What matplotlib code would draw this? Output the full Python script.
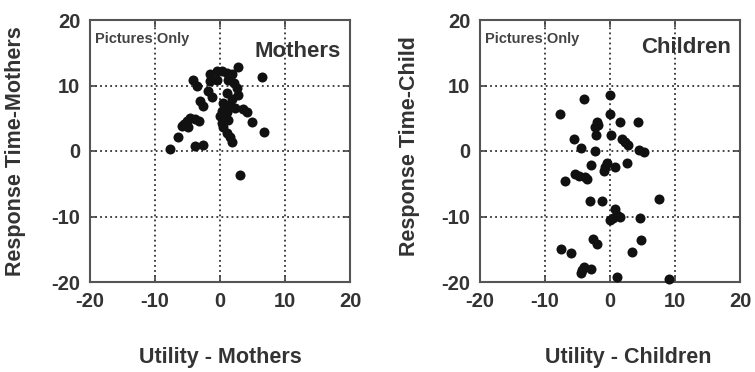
import matplotlib
matplotlib.use("Agg")
import matplotlib.pyplot as plt

plt.rcParams["font.family"] = ["Liberation Sans", "DejaVu Sans"]
plt.rcParams["axes.unicode_minus"] = False

# Mothers panel: utility vs response time
mothers_x = [2.8, 6.4, -4.1, -3.6, -1.5, -0.5, 0.3, 1.0, 1.8, -1.5, -0.5, 1.3, 2.1,
             2.6, -1.3, 1.0, 2.8, -3.1, -2.6, 0.5, 1.5, 2.3, 3.6, 4.1, 0.3, 1.0,
             4.9, 6.7, -4.6, -3.8, -5.1, -5.9, -3.3, -5.6, -4.9, -6.4, -7.7, -3.8,
             -2.6, 0.3, 0.5, 1.0, 1.5, 1.8, 3.1, 0.0, 1.3, -1.8, 1.8]
mothers_y = [12.8, 11.3, 10.8, 9.9, 11.7, 12.2, 12.2, 11.9, 11.7, 10.7, 10.9, 10.9, 10.4,
             9.6, 8.3, 8.9, 8.6, 7.6, 6.9, 7.4, 7.0, 6.6, 6.4, 6.0, 6.1, 5.9,
             4.4, 2.9, 5.1, 4.9, 4.6, 3.8, 4.6, 4.1, 3.6, 2.2, 0.3, 0.7,
             0.9, 4.3, 3.6, 2.8, 2.1, 1.3, -3.7, 5.4, 4.8, 9.1, 7.9]

# Children panel
children_x = [0.0, -4.0, -7.7, 0.0, 1.5, 4.3, -2.0, -1.8, -2.3, -2.2, 0.1, 1.9, 2.3,
              2.7, -5.6, -4.4, -2.3, 4.5, 5.3, -3.0, -0.5, -0.7, -1.0, 0.8, 2.6,
              -5.4, -4.7, -3.8, -3.5, -6.9, -3.1, -1.2, 7.6, 0.8, 1.1, 1.5, 0.0,
              0.5, 4.6, -2.6, -2.0, 4.8, -7.6, -6.0, 3.4, -4.0, -4.5, -3.0, -4.3,
              1.0, 9.1]
children_y = [8.6, 8.0, 5.7, 5.6, 4.4, 4.4, 4.4, 3.9, 3.7, 2.4, 2.4, 1.9, 1.4,
              0.9, 1.8, 0.5, 0.0, 0.2, -0.2, -2.1, -1.8, -2.4, -3.1, -2.4, -1.9,
              -3.5, -3.8, -3.9, -4.3, -4.6, -7.7, -7.7, -7.4, -8.9, -9.7, -10.0, -10.6,
              -10.3, -10.3, -13.5, -14.2, -13.6, -14.9, -15.5, -15.4, -17.7, -18.6, -18.0, -18.2,
              -19.2, -19.6]

ticks = [-20, -10, 0, 10, 20]
text_color = "#333333"

# data, title, x label, y label, axes pixel span, x label centre, y label centre
panels = [
    (mothers_x, mothers_y, "Mothers", 0.88, "Utility - Mothers", "Response Time-Mothers",
     [90, 350], 220, (16, 151)),
    (children_x, children_y, "Children", 0.895, "Utility - Children", "Response Time-Child",
     [480, 740], 628, (410, 146)),
]

W, H = 755, 372
fig = plt.figure(figsize=(W / 100, H / 100), dpi=100)

for xs, ys, title, ty, xlabel, ylabel, (left, right), xlab_x, (ylab_x, ylab_y) in panels:
    ax = fig.add_axes([left / W, (H - 282) / H, (right - left) / W, 262 / H])
    ax.scatter(xs, ys, s=52, color="#111111", zorder=3, clip_on=False, linewidths=0)
    ax.set_xlim(-20, 20)
    ax.set_ylim(-20, 20)
    ax.set_xticks(ticks)
    ax.set_yticks(ticks)
    for v in [-10, 0, 10]:
        ax.axvline(v, color="#333333", linestyle=(0, (1.0, 1.8)), linewidth=1.3, zorder=1)
        ax.axhline(v, color="#333333", linestyle=(0, (1.0, 1.8)), linewidth=1.3, zorder=1)
    ax.tick_params(direction="in", length=5, width=1.2, top=True, right=True,
                   labelsize=14.5, colors="#444444", labelcolor=text_color, pad=7)
    for lab in ax.get_xticklabels() + ax.get_yticklabels():
        lab.set_fontweight("bold")
    for sp in ax.spines.values():
        sp.set_color("#555555")
        sp.set_linewidth(1.5)
    ax.text(0.02, 0.955, "Pictures Only", transform=ax.transAxes, fontsize=10.5,
            fontweight="bold", color="#444444", va="top", ha="left")
    ax.text(0.965, ty, title, transform=ax.transAxes, fontsize=16,
            fontweight="bold", color=text_color, va="center", ha="right")
    fig.text(xlab_x / W, 1 - 357 / H, xlabel, fontsize=15.5, fontweight="bold",
             color=text_color, ha="center", va="center")
    fig.text(ylab_x / W, 1 - ylab_y / H, ylabel, fontsize=15.5, fontweight="bold",
             color=text_color, ha="center", va="center", rotation=90)

fig.savefig("out.png", dpi=100)
